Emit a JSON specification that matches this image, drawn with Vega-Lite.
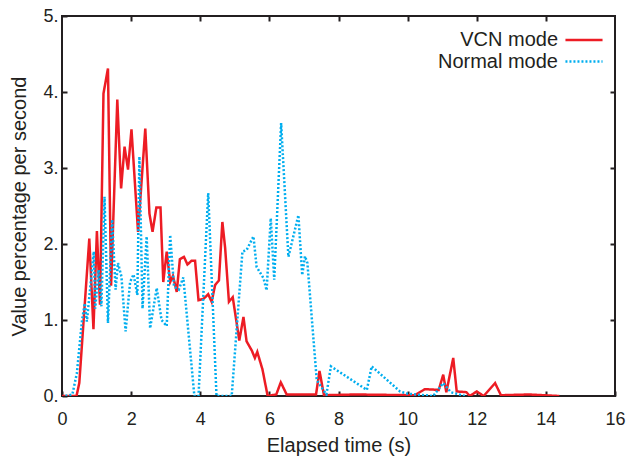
{
  "$schema": "https://vega.github.io/schema/vega-lite/v6.json",
  "width": 553,
  "height": 380,
  "autosize": "none",
  "padding": {"left": 62, "top": 16, "right": 13, "bottom": 63},
  "background": "white",
  "config": {
    "view": {"stroke": "#231f20", "strokeWidth": 2},
    "font": "Liberation Sans",
    "axis": {
      "grid": false,
      "domain": false,
      "tickColor": "#231f20",
      "tickWidth": 2,
      "tickSize": -5,
      "labelColor": "#231f20",
      "titleColor": "#231f20",
      "labelFont": "Liberation Sans",
      "titleFont": "Liberation Sans",
      "labelFontSize": 18,
      "titleFontSize": 20,
      "titleFontWeight": "normal"
    }
  },
  "data": {
    "values": [
      {"series": "VCN mode", "t": 0.0, "v": 0.0},
      {"series": "VCN mode", "t": 0.42, "v": 0.0},
      {"series": "VCN mode", "t": 0.5, "v": 0.17},
      {"series": "VCN mode", "t": 0.79, "v": 2.07},
      {"series": "VCN mode", "t": 0.91, "v": 0.88},
      {"series": "VCN mode", "t": 1.01, "v": 2.17},
      {"series": "VCN mode", "t": 1.1, "v": 1.2},
      {"series": "VCN mode", "t": 1.2, "v": 3.98},
      {"series": "VCN mode", "t": 1.33, "v": 4.31},
      {"series": "VCN mode", "t": 1.42, "v": 1.45},
      {"series": "VCN mode", "t": 1.6, "v": 3.9},
      {"series": "VCN mode", "t": 1.71, "v": 2.73},
      {"series": "VCN mode", "t": 1.81, "v": 3.28},
      {"series": "VCN mode", "t": 1.91, "v": 2.98},
      {"series": "VCN mode", "t": 2.01, "v": 3.51},
      {"series": "VCN mode", "t": 2.2, "v": 2.16},
      {"series": "VCN mode", "t": 2.41, "v": 3.52},
      {"series": "VCN mode", "t": 2.53, "v": 2.4},
      {"series": "VCN mode", "t": 2.62, "v": 2.16},
      {"series": "VCN mode", "t": 2.73, "v": 2.48},
      {"series": "VCN mode", "t": 2.85, "v": 2.48},
      {"series": "VCN mode", "t": 2.93, "v": 1.5},
      {"series": "VCN mode", "t": 3.03, "v": 1.9},
      {"series": "VCN mode", "t": 3.13, "v": 1.5},
      {"series": "VCN mode", "t": 3.21, "v": 1.58},
      {"series": "VCN mode", "t": 3.32, "v": 1.37},
      {"series": "VCN mode", "t": 3.41, "v": 1.8},
      {"series": "VCN mode", "t": 3.53, "v": 1.83},
      {"series": "VCN mode", "t": 3.63, "v": 1.73},
      {"series": "VCN mode", "t": 3.75, "v": 1.78},
      {"series": "VCN mode", "t": 3.85, "v": 1.78},
      {"series": "VCN mode", "t": 3.95, "v": 1.26},
      {"series": "VCN mode", "t": 4.1, "v": 1.28},
      {"series": "VCN mode", "t": 4.23, "v": 1.34},
      {"series": "VCN mode", "t": 4.33, "v": 1.24},
      {"series": "VCN mode", "t": 4.43, "v": 1.46},
      {"series": "VCN mode", "t": 4.54, "v": 1.52},
      {"series": "VCN mode", "t": 4.64, "v": 2.29},
      {"series": "VCN mode", "t": 4.72, "v": 1.95},
      {"series": "VCN mode", "t": 4.83, "v": 1.24},
      {"series": "VCN mode", "t": 4.94, "v": 1.3},
      {"series": "VCN mode", "t": 5.13, "v": 0.73},
      {"series": "VCN mode", "t": 5.25, "v": 1.04},
      {"series": "VCN mode", "t": 5.34, "v": 0.72},
      {"series": "VCN mode", "t": 5.49, "v": 0.6},
      {"series": "VCN mode", "t": 5.58, "v": 0.5},
      {"series": "VCN mode", "t": 5.65, "v": 0.58},
      {"series": "VCN mode", "t": 5.8, "v": 0.35},
      {"series": "VCN mode", "t": 5.95, "v": 0.0},
      {"series": "VCN mode", "t": 6.2, "v": 0.02},
      {"series": "VCN mode", "t": 6.33, "v": 0.18},
      {"series": "VCN mode", "t": 6.5, "v": 0.02},
      {"series": "VCN mode", "t": 7.0, "v": 0.02},
      {"series": "VCN mode", "t": 7.35, "v": 0.02},
      {"series": "VCN mode", "t": 7.45, "v": 0.33},
      {"series": "VCN mode", "t": 7.58, "v": 0.01},
      {"series": "VCN mode", "t": 8.5, "v": 0.02},
      {"series": "VCN mode", "t": 10.2, "v": 0.01},
      {"series": "VCN mode", "t": 10.5, "v": 0.09},
      {"series": "VCN mode", "t": 10.9, "v": 0.08},
      {"series": "VCN mode", "t": 11.03, "v": 0.28},
      {"series": "VCN mode", "t": 11.12, "v": 0.05},
      {"series": "VCN mode", "t": 11.32, "v": 0.5},
      {"series": "VCN mode", "t": 11.42, "v": 0.06},
      {"series": "VCN mode", "t": 11.7, "v": 0.05},
      {"series": "VCN mode", "t": 11.8, "v": 0.0},
      {"series": "VCN mode", "t": 12.0, "v": 0.06},
      {"series": "VCN mode", "t": 12.2, "v": 0.0},
      {"series": "VCN mode", "t": 12.53, "v": 0.17},
      {"series": "VCN mode", "t": 12.7, "v": 0.01},
      {"series": "VCN mode", "t": 13.5, "v": 0.02},
      {"series": "VCN mode", "t": 14.39, "v": 0.0},
      {"series": "Normal mode", "t": 0.1, "v": 0.0},
      {"series": "Normal mode", "t": 0.3, "v": 0.02},
      {"series": "Normal mode", "t": 0.43, "v": 0.3},
      {"series": "Normal mode", "t": 0.58, "v": 1.0},
      {"series": "Normal mode", "t": 0.66, "v": 1.22},
      {"series": "Normal mode", "t": 0.72, "v": 0.98},
      {"series": "Normal mode", "t": 0.92, "v": 1.9},
      {"series": "Normal mode", "t": 0.96, "v": 1.15},
      {"series": "Normal mode", "t": 1.06, "v": 1.66},
      {"series": "Normal mode", "t": 1.14, "v": 1.18},
      {"series": "Normal mode", "t": 1.23, "v": 2.62},
      {"series": "Normal mode", "t": 1.33, "v": 0.96},
      {"series": "Normal mode", "t": 1.45, "v": 2.32},
      {"series": "Normal mode", "t": 1.55, "v": 1.4},
      {"series": "Normal mode", "t": 1.62, "v": 1.75},
      {"series": "Normal mode", "t": 1.72, "v": 1.57},
      {"series": "Normal mode", "t": 1.84, "v": 0.85},
      {"series": "Normal mode", "t": 1.97, "v": 1.5},
      {"series": "Normal mode", "t": 2.07, "v": 1.6},
      {"series": "Normal mode", "t": 2.18, "v": 1.33},
      {"series": "Normal mode", "t": 2.24, "v": 3.15},
      {"series": "Normal mode", "t": 2.33, "v": 1.15},
      {"series": "Normal mode", "t": 2.45, "v": 2.1},
      {"series": "Normal mode", "t": 2.55, "v": 0.89},
      {"series": "Normal mode", "t": 2.74, "v": 1.42},
      {"series": "Normal mode", "t": 2.88, "v": 1.0},
      {"series": "Normal mode", "t": 3.03, "v": 0.92},
      {"series": "Normal mode", "t": 3.13, "v": 2.12},
      {"series": "Normal mode", "t": 3.24, "v": 1.44},
      {"series": "Normal mode", "t": 3.38, "v": 1.4},
      {"series": "Normal mode", "t": 3.51, "v": 1.56},
      {"series": "Normal mode", "t": 3.83, "v": 0.0},
      {"series": "Normal mode", "t": 3.95, "v": 0.0},
      {"series": "Normal mode", "t": 4.23, "v": 2.67},
      {"series": "Normal mode", "t": 4.47, "v": 0.0},
      {"series": "Normal mode", "t": 4.91, "v": 0.0},
      {"series": "Normal mode", "t": 5.22, "v": 1.9},
      {"series": "Normal mode", "t": 5.34, "v": 1.92},
      {"series": "Normal mode", "t": 5.54, "v": 2.1},
      {"series": "Normal mode", "t": 5.63, "v": 1.7},
      {"series": "Normal mode", "t": 5.83, "v": 1.55},
      {"series": "Normal mode", "t": 5.92, "v": 1.39},
      {"series": "Normal mode", "t": 6.04, "v": 2.34},
      {"series": "Normal mode", "t": 6.14, "v": 1.53},
      {"series": "Normal mode", "t": 6.34, "v": 3.59},
      {"series": "Normal mode", "t": 6.55, "v": 1.83},
      {"series": "Normal mode", "t": 6.64, "v": 2.0},
      {"series": "Normal mode", "t": 6.84, "v": 2.38},
      {"series": "Normal mode", "t": 6.95, "v": 1.59},
      {"series": "Normal mode", "t": 7.03, "v": 1.84},
      {"series": "Normal mode", "t": 7.1, "v": 1.75},
      {"series": "Normal mode", "t": 7.37, "v": 0.21},
      {"series": "Normal mode", "t": 7.56, "v": 0.08},
      {"series": "Normal mode", "t": 7.65, "v": 0.02},
      {"series": "Normal mode", "t": 7.78, "v": 0.39},
      {"series": "Normal mode", "t": 8.82, "v": 0.08},
      {"series": "Normal mode", "t": 8.96, "v": 0.39},
      {"series": "Normal mode", "t": 9.78, "v": 0.06},
      {"series": "Normal mode", "t": 10.0, "v": 0.03},
      {"series": "Normal mode", "t": 10.74, "v": 0.0},
      {"series": "Normal mode", "t": 11.03, "v": 0.17},
      {"series": "Normal mode", "t": 11.25, "v": 0.05},
      {"series": "Normal mode", "t": 11.66, "v": 0.0}
    ]
  },
  "layer": [
    {
      "mark": {"type": "line", "strokeWidth": 2.5, "clip": true},
      "encoding": {
        "x": {
          "field": "t", "type": "quantitative",
          "scale": {"domain": [0, 16], "nice": false, "zero": false},
          "axis": {"orient": "bottom", "values": [0, 2, 4, 6, 8, 10, 12, 14, 16], "labelPadding": 19, "title": "Elapsed time (s)", "titlePadding": 7, "labelFlush": false}
        },
        "y": {
          "field": "v", "type": "quantitative",
          "scale": {"domain": [0, 5], "nice": false},
          "axis": {"orient": "left", "values": [0, 1, 2, 3, 4, 5], "labelExpr": "datum.label + '.'", "labelPadding": 9, "title": "Value percentage per second", "titlePadding": 13, "labelFlush": false}
        },
        "color": {
          "field": "series", "type": "nominal",
          "scale": {"domain": ["VCN mode", "Normal mode"], "range": ["#ed1c24", "#00aeef"]},
          "legend": {
            "title": null,
            "orient": "none",
            "legendX": 512,
            "legendY": 14,
            "symbolType": "M-4,0H4",
            "symbolSize": 86,
            "symbolStrokeWidth": 2.5,
            "labelAlign": "right",
            "labelOffset": -36,
            "labelFontSize": 20,
            "labelFont": "Liberation Sans",
            "labelColor": "#231f20",
            "rowPadding": 1.5
          }
        },
        "strokeDash": {
          "field": "series", "type": "nominal",
          "scale": {"domain": ["VCN mode", "Normal mode"], "range": [[1, 0], [2, 2]]},
          "legend": {
            "title": null,
            "orient": "none",
            "legendX": 512,
            "legendY": 14,
            "symbolType": "M-4,0H4",
            "symbolSize": 86,
            "symbolStrokeWidth": 2.5,
            "labelAlign": "right",
            "labelOffset": -36,
            "labelFontSize": 20,
            "labelFont": "Liberation Sans",
            "labelColor": "#231f20",
            "rowPadding": 1.5
          }
        },
        "order": {"field": "t", "type": "quantitative"}
      }
    },
    {
      "mark": {"type": "point", "opacity": 0},
      "encoding": {
        "x": {
          "field": "t", "type": "quantitative",
          "axis": {"orient": "top", "values": [2, 4, 6, 8, 10, 12, 14], "labels": false, "title": null}
        },
        "y": {
          "field": "v", "type": "quantitative",
          "axis": {"orient": "right", "values": [1, 2, 3, 4], "labels": false, "title": null}
        }
      }
    }
  ],
  "resolve": {"axis": {"x": "independent", "y": "independent"}}
}
